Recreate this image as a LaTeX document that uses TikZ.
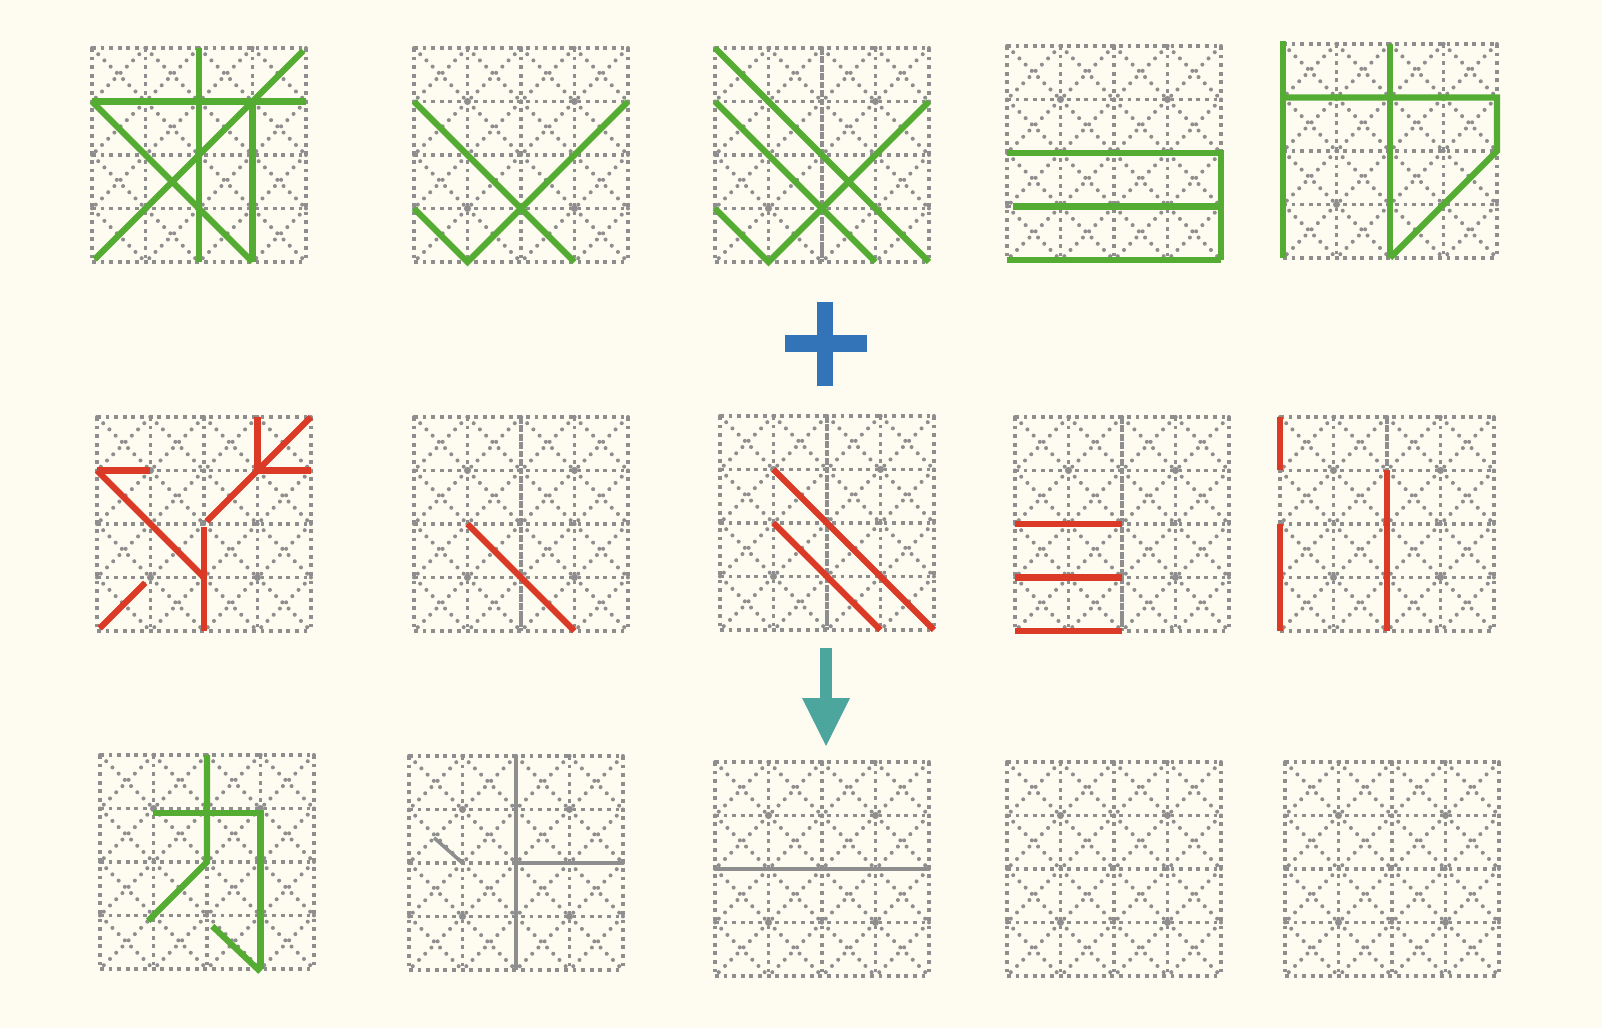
\documentclass[tikz,border=0pt]{standalone}
\usepackage{tikz}

\definecolor{bgcream}{RGB}{254,252,240}
\definecolor{gridgray}{RGB}{142,142,142}
\definecolor{strokegreen}{RGB}{84,172,51}
\definecolor{strokered}{RGB}{218,58,38}
\definecolor{plusblue}{RGB}{51,115,183}
\definecolor{arrowteal}{RGB}{76,166,158}

\tikzset{
	gridline/.style = {draw=gridgray, line width=2.2pt, dash pattern=on 2.2pt off 2.7pt},
	diagline/.style = {draw=gridgray, line width=2.3pt, line cap=round, dash pattern=on 0pt off 5pt},
	ringline/.style = {draw=gridgray, line width=0.9pt},
	densemid/.style = {draw=gridgray, line width=2.2pt, dash pattern=on 3.8pt off 1pt},
	greenstroke/.style = {draw=strokegreen, line width=3.5pt},
	redstroke/.style = {draw=strokered, line width=3.5pt},
	graystroke/.style = {draw=gridgray, line width=2pt},
	cell/.style = {x=1.07cm, y=-1.07cm}
}

% one 4x4 writing grid, cells crossed by both diagonals
\newcommand{\zigegrid}{%
	\foreach \i in {0,...,3} \foreach \j in {0,...,3} {
		\draw[diagline] (\i,\j) -- ++(1,1);
		\draw[diagline] (\i+1,\j) -- ++(-1,1);
	}
	\foreach \k in {0,...,4} {
		\draw[gridline] (\k,0) -- (\k,4);
		\draw[gridline] (0,\k) -- (4,\k);
	}
	\foreach \p in {(1,1),(3,1),(1,3),(3,3)} \draw[ringline] \p circle (0.05);
}

\begin{document}
\begin{tikzpicture}[x=0.02cm, y=-0.02cm]
	\fill[bgcream] (0,0) rectangle (1602,1028);

	% grid corners, top left
	\coordinate (g11) at (92,48);   \coordinate (g12) at (414,48);  \coordinate (g13) at (715,48);
	\coordinate (g14) at (1007,46); \coordinate (g15) at (1283,44);
	\coordinate (g21) at (97,417);  \coordinate (g22) at (414,417); \coordinate (g23) at (720,416);
	\coordinate (g24) at (1015,417); \coordinate (g25) at (1280,417);
	\coordinate (g31) at (100,755); \coordinate (g32) at (409,756); \coordinate (g33) at (715,762);
	\coordinate (g34) at (1007,762); \coordinate (g35) at (1285,762);

	% first row
	\begin{scope}[shift={(g11)}, cell]
		\zigegrid
		\draw[greenstroke] (0,1) -- (4,1);
		\draw[greenstroke] (2,0) -- (2,4);
		\draw[greenstroke] (3.95,0.05) -- (0.05,3.95);
		\draw[greenstroke] (0,1) -- (3,4);
		\draw[greenstroke] (3,1) -- (3,4);
	\end{scope}
	\begin{scope}[shift={(g12)}, cell]
		\zigegrid
		\draw[greenstroke] (0,1) -- (3,4);
		\draw[greenstroke] (0,3) -- (1,4) -- (4,1);
	\end{scope}
	\begin{scope}[shift={(g13)}, cell]
		\zigegrid
		\draw[densemid] (2,0) -- (2,4);
		\draw[greenstroke] (0,0) -- (4,4);
		\draw[greenstroke] (0,1) -- (3,4);
		\draw[greenstroke] (0,3) -- (1,4) -- (4,1);
	\end{scope}
	\begin{scope}[shift={(g14)}, cell]
		\zigegrid
		\draw[greenstroke] (0,2) -- (4,2) -- (4,4);
		\draw[greenstroke] (0.12,3) -- (4,3);
		\draw[greenstroke] (0,4) -- (4,4);
	\end{scope}
	\begin{scope}[shift={(g15)}, cell]
		\zigegrid
		\draw[greenstroke] (0,-0.05) -- (0,4);
		\draw[greenstroke] (2,0) -- (2,4);
		\draw[greenstroke] (0,1) -- (4,1) -- (4,2) -- (2,4);
	\end{scope}

	% plus sign
	\fill[plusblue] (817,302) rectangle (833,386);
	\fill[plusblue] (785,335) rectangle (867,352);

	% second row
	\begin{scope}[shift={(g21)}, cell]
		\zigegrid
		\draw[redstroke] (0,1) -- (1,1);
		\draw[redstroke] (0,1) -- (2,3);
		\draw[redstroke] (2,2.05) -- (2,4);
		\draw[redstroke] (2.05,1.95) -- (4,0);
		\draw[redstroke] (3,0) -- (3,1) -- (4,1);
		\draw[redstroke] (0.05,3.95) -- (0.9,3.1);
	\end{scope}
	\begin{scope}[shift={(g22)}, cell]
		\zigegrid
		\draw[densemid] (2,0) -- (2,4);
		\draw[redstroke] (1,2) -- (3,4);
	\end{scope}
	\begin{scope}[shift={(g23)}, cell]
		\zigegrid
		\draw[densemid] (2,0) -- (2,4);
		\draw[redstroke] (1,1) -- (4,4);
		\draw[redstroke] (1,2) -- (3,4);
	\end{scope}
	\begin{scope}[shift={(g24)}, cell]
		\zigegrid
		\draw[densemid] (2,0) -- (2,4);
		\foreach \r in {2,3,4} \draw[redstroke] (0,\r) -- (2,\r);
	\end{scope}
	\begin{scope}[shift={(g25)}, cell]
		\zigegrid
		\draw[densemid] (2,0) -- (2,4);
		\draw[redstroke] (0,0) -- (0,1);
		\draw[redstroke] (0,2) -- (0,4);
		\draw[redstroke] (2,1) -- (2,4);
	\end{scope}

	% arrow down
	\fill[arrowteal] (820,648) rectangle (832,700);
	\fill[arrowteal] (802,698) -- (850,698) -- (826,746) -- cycle;

	% third row
	\begin{scope}[shift={(g31)}, cell]
		\zigegrid
		\draw[greenstroke] (2,0) -- (2,2) -- (0.9,3.1);
		\draw[greenstroke] (1,1.08) -- (3,1.08) -- (3,4);
		\draw[greenstroke] (2.1,3.2) -- (3,4.05);
	\end{scope}
	\begin{scope}[shift={(g32)}, cell]
		\zigegrid
		\draw[graystroke] (2,0) -- (2,4);
		\draw[graystroke] (2,2) -- (4,2);
		\draw[graystroke] (0.47,1.53) -- (1,2);
	\end{scope}
	\begin{scope}[shift={(g33)}, cell]
		\zigegrid
		\draw[graystroke] (0,2) -- (4,2);
	\end{scope}
	\begin{scope}[shift={(g34)}, cell]
		\zigegrid
	\end{scope}
	\begin{scope}[shift={(g35)}, cell]
		\zigegrid
	\end{scope}
\end{tikzpicture}
\end{document}
